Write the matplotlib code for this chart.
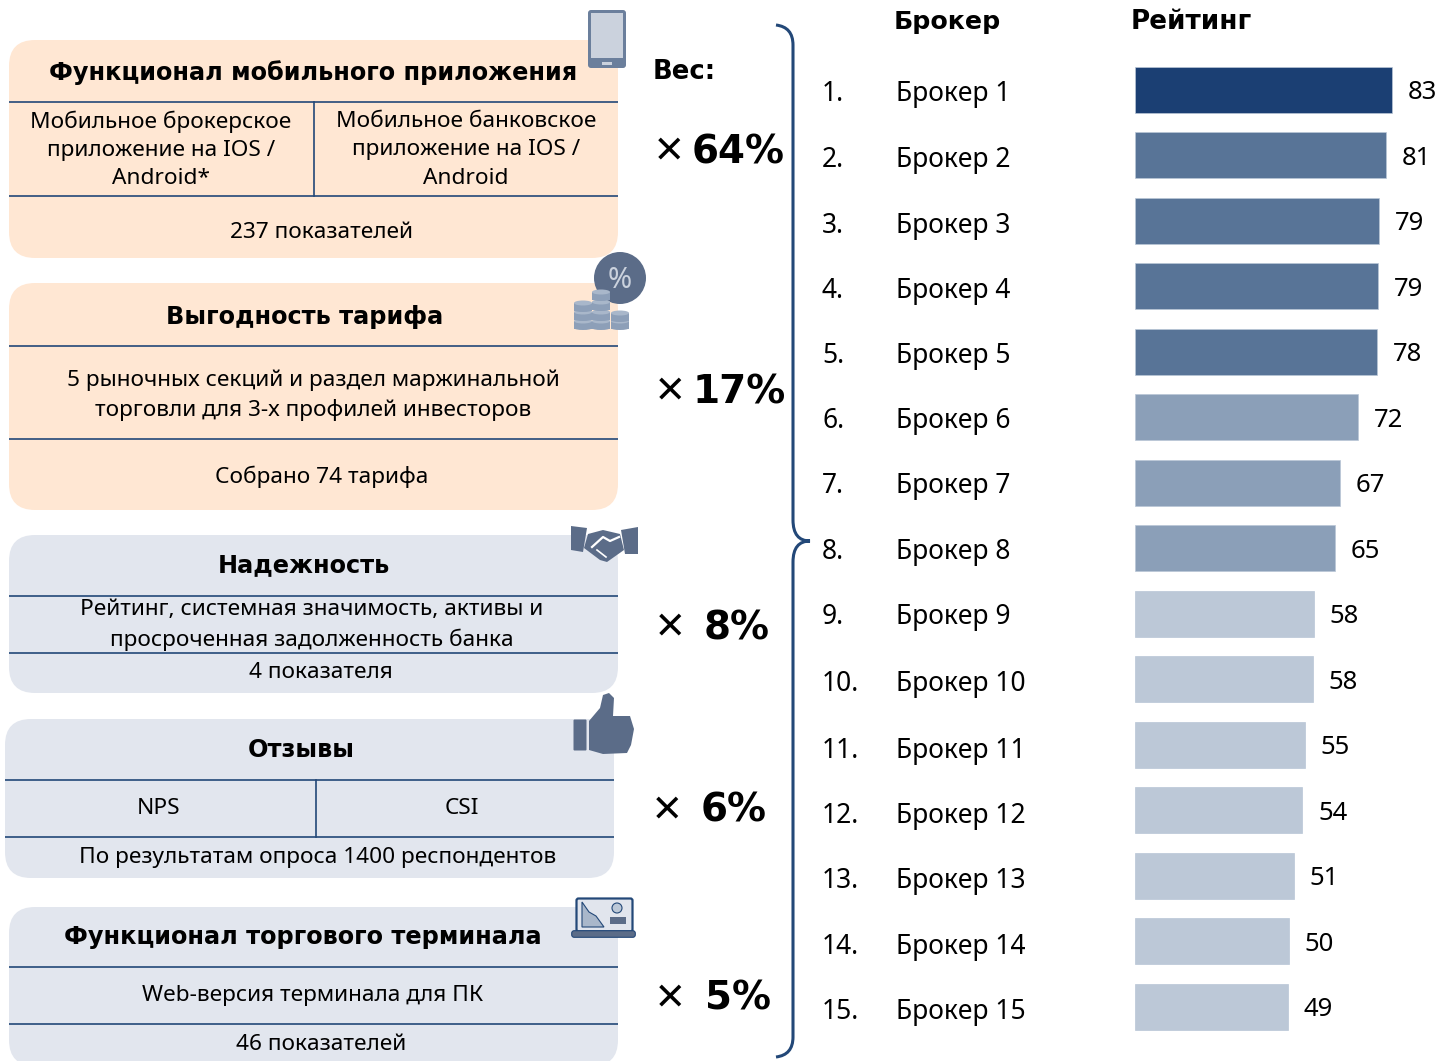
import numpy as np
import matplotlib
matplotlib.use('Agg')
import matplotlib.pyplot as plt
from matplotlib.patches import FancyBboxPatch, Rectangle, Circle, Polygon, Ellipse, PathPatch
from matplotlib.path import Path

plt.rcParams['font.family'] = ['Noto Sans', 'DejaVu Sans']

LINE = '#234878'
ICON = '#5B6C88'
PEACH = '#FFE7D3'
GREY = '#E2E6EE'

brokers = ['Брокер %d' % i for i in range(1, 16)]
places = ['%d.' % i for i in range(1, 16)]
ratings = [83, 81, 79, 79, 78, 72, 67, 65, 58, 58, 55, 54, 51, 50, 49]
bar_lengths = [83.0, 81.0, 78.9, 78.5, 78.2, 72.0, 66.3, 64.7, 57.9, 57.5, 55.0, 54.1, 51.4, 49.8, 49.5]
bar_colors = ['#1B3F73'] + ['#587497'] * 4 + ['#8B9FB8'] * 3 + ['#BCC8D7'] * 7
name_y = [92, 158, 224, 289, 354, 419, 484, 550, 615, 682, 749, 814, 879, 945, 1010]

weights = ['64%', '17%', '8%', '6%', '5%']
weight_y = [152, 392, 628, 811, 999]
weight_x = [692, 693, 704, 701, 705]
cross_x = [669, 670, 670, 667, 670]

fig = plt.figure(figsize=(14.38, 10.61), dpi=100)
ax = fig.add_axes([0, 0, 1, 1])
ax.set_xlim(0, 1438)
ax.set_ylim(1061, 0)
ax.axis('off')


def panel(x0, x1, y0, y1, color, lines, vline=None):
    box = FancyBboxPatch((x0 + 26, y0 + 26), x1 - x0 - 52, y1 - y0 - 52,
                         boxstyle='round,pad=26,rounding_size=26', fc=color, ec='none', zorder=1)
    ax.add_patch(box)
    for y in lines:
        ax.plot([x0, x1], [y, y], color=LINE, lw=1.2, zorder=2, solid_capstyle='butt')
    if vline is not None:
        ax.plot([vline, vline], [lines[0], lines[1]], color=LINE, lw=1.2, zorder=2)


def label(x, y, s, size=16.3):
    ax.text(x, y + 2, s, fontsize=size, ha='center', va='center', color='black', zorder=5, linespacing=1.45)


def head(x, y, s, size=17.3, ha='center'):
    ax.text(x, y + 2, s, fontsize=size, fontweight='bold', family='DejaVu Sans', ha=ha, va='center',
            color='black', zorder=5)


panel(9, 618, 40, 258, PEACH, [102, 196], 314)
panel(9, 618, 283, 510, PEACH, [346, 439])
panel(9, 618, 535, 693, GREY, [596, 653])
panel(5, 614, 719, 878, GREY, [780, 837], 316)
panel(9, 618, 907, 1066, GREY, [967, 1024])

head(313, 71, 'Функционал мобильного приложения')
label(161, 148, 'Мобильное брокерское\nприложение на IOS /\nAndroid*')
label(466, 148, 'Мобильное банковское\nприложение на IOS /\nAndroid')
label(322, 231, '237 показателей')
head(305, 315, 'Выгодность тарифа')
label(313, 393, '5 рыночных секций и раздел маржинальной\nторговли для 3-х профилей инвесторов')
label(322, 475, 'Собрано 74 тарифа')
head(304, 563, 'Надежность')
label(312, 623, 'Рейтинг, системная значимость, активы и\nпросроченная задолженность банка')
label(321, 671, '4 показателя')
head(301, 748, 'Отзывы')
label(159, 806, 'NPS')
label(462, 806, 'CSI')
label(318, 855, 'По результатам опроса 1400 респондентов')
head(303, 935, 'Функционал торгового терминала')
label(313, 994, 'Web-версия терминала для ПК')
label(321, 1043, '46 показателей')

# phone
ax.add_patch(FancyBboxPatch((589, 11), 36, 56, boxstyle='round,pad=1,rounding_size=3', fc='#6B7F9C', ec='none', zorder=6))
ax.add_patch(Rectangle((591, 13), 32, 45, fc='#CBD2DD', ec='none', zorder=7))
ax.add_patch(Rectangle((602, 62), 10, 2.5, fc='#CBD2DD', ec='none', zorder=7))

# percent coin and stacks
ax.add_patch(Circle((620, 278), 26, fc=ICON, ec='none', zorder=6))
ax.text(620, 280, '%', fontsize=21, color='#CBD2DD', ha='center', va='center', zorder=7)
for cx, ys in [(583, [325, 316, 307]), (601, [325, 316, 306, 296]), (620, [325, 317])]:
    for cy in ys:
        ax.add_patch(Rectangle((cx - 9, cy - 4), 18, 8, fc='#8D9FB8', ec='none', zorder=8))
        ax.add_patch(Ellipse((cx, cy + 3), 18, 4, fc='#8D9FB8', ec='none', zorder=8))
        ax.add_patch(Ellipse((cx, cy - 4), 18, 5, fc='#A9B7CA', ec='none', zorder=8))

# handshake
ax.add_patch(Polygon([(571, 526), (587, 528), (583, 552), (571, 550)], fc=ICON, ec='none', zorder=6))
ax.add_patch(Polygon([(638, 527), (621, 530), (625, 554), (638, 554)], fc=ICON, ec='none', zorder=6))
ax.add_patch(Polygon([(588, 534), (603, 530), (620, 534), (624, 550), (607, 562), (600, 560), (584, 548)],
                     fc=ICON, ec='none', zorder=6))
ax.plot([592, 603, 610, 619], [547, 537, 541, 537], color='white', lw=1.6, zorder=7)
ax.plot([597, 606], [550, 557], color='white', lw=1.2, zorder=7)

# thumb
ax.add_patch(FancyBboxPatch((574, 720), 12, 30, boxstyle='round,pad=0.5,rounding_size=1', fc=ICON, ec='none', zorder=6))
ax.add_patch(Polygon([(589, 721), (600, 708), (603, 695), (609, 693), (614, 698), (613, 716), (630, 716),
                      (634, 729), (631, 745), (627, 753), (603, 754), (589, 750)], fc=ICON, ec='none', zorder=6))

# laptop
ax.add_patch(FancyBboxPatch((577, 899), 55, 32, boxstyle='round,pad=0.5,rounding_size=2', fc='#E1E5ED', ec=LINE, lw=1.6, zorder=6))
ax.add_patch(FancyBboxPatch((572, 931), 63, 6, boxstyle='round,pad=0.3,rounding_size=2.5', fc=ICON, ec=LINE, lw=0.8, zorder=6))
ax.add_patch(Polygon([(582, 902), (589, 912), (596, 916), (604, 927), (582, 927)], fc='#A9B7CA', ec=LINE, lw=0.8, zorder=7))
ax.add_patch(Circle((617, 908), 5, fc='#BCC8D7', ec=LINE, lw=0.8, zorder=7))
ax.add_patch(Rectangle((610, 917), 16, 7, fc=ICON, ec='none', zorder=7))

# brace
verts = [(776, 25), (793, 27), (793, 45), (793, 520), (793, 541), (810, 541), (793, 541), (793, 562),
         (793, 1037), (793, 1055), (776, 1057)]
codes = [Path.MOVETO, Path.CURVE3, Path.CURVE3, Path.LINETO, Path.CURVE3, Path.CURVE3, Path.CURVE3, Path.CURVE3,
         Path.LINETO, Path.CURVE3, Path.CURVE3]
ax.add_patch(PathPatch(Path(verts, codes), fc='none', ec=LINE, lw=2.2, zorder=3))

head(653, 70, 'Вес:', 18.6, ha='left')
for w, y, wx, cx in zip(weights, weight_y, weight_x, cross_x):
    ax.text(wx, y, w, fontsize=28, fontweight='bold', family='DejaVu Sans', ha='left', va='center', color='black')
    ax.text(cx, y + 1, '×', fontsize=36, ha='center', va='center', color='black')

head(947, 20, 'Брокер', 18.2)
head(1191, 20, 'Рейтинг', 18.9)

for p, name, y in zip(places, brokers, name_y):
    ax.text(822, y + 2, p, fontsize=19, ha='left', va='center', color='black')
    ax.text(896, y + 2, name, fontsize=19, ha='left', va='center', color='black')

# bars in their own axes, one unit of rating = 3.096 px, rows 65.5 px apart
bar_top = 89.6 - 0.75 * 65.5
bar_bottom = 1006.6 + 0.75 * 65.5
bar_ax = fig.add_axes([1135 / 1438, 1 - bar_bottom / 1061, 303 / 1438, (bar_bottom - bar_top) / 1061])
bar_ax.set_xlim(0, 303 / 3.096)
bar_ax.set_ylim(14.75, -0.75)
bar_ax.axis('off')
bar_ax.barh(range(len(ratings)), bar_lengths, height=0.7, color=bar_colors, edgecolor='#B9C6D6', linewidth=0.5)
for i, (r, b) in enumerate(zip(ratings, bar_lengths)):
    bar_ax.annotate(str(r), (b, i), xytext=(15.5, -3), textcoords='offset pixels', fontsize=18.5, va='center', ha='left')

fig.savefig('out.png', dpi=100)
